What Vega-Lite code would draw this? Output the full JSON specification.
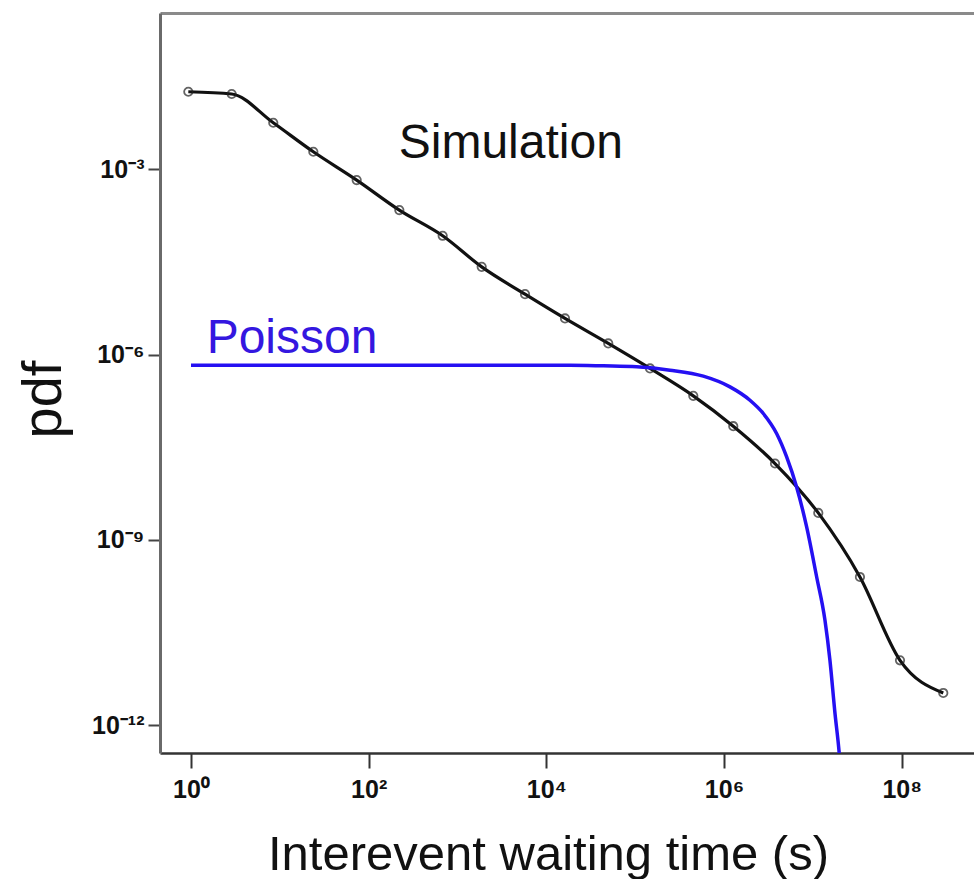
{
  "$schema": "https://vega.github.io/schema/vega-lite/v6.json",
  "width": 814,
  "height": 740,
  "autosize": {"type": "none"},
  "padding": {"left": 160, "top": 13, "right": 0, "bottom": 126},
  "background": "white",
  "config": {"view": {"stroke": null}, "axis": {"grid": false}},
  "datasets": {
    "sim": [
      {"t": 0.933, "pdf": 0.01807},
      {"t": 2.871, "pdf": 0.01660},
      {"t": 8.433, "pdf": 0.005689},
      {"t": 23.82, "pdf": 0.001928},
      {"t": 73.28, "pdf": 0.0006714},
      {"t": 221.3, "pdf": 0.0002193},
      {"t": 680.8, "pdf": 0.00008414},
      {"t": 1871, "pdf": 0.00002642},
      {"t": 5754, "pdf": 0.000009550},
      {"t": 16218, "pdf": 0.000003864},
      {"t": 49774, "pdf": 0.000001521},
      {"t": 146893, "pdf": 5.984e-7},
      {"t": 450817, "pdf": 2.153e-7},
      {"t": 1271000, "pdf": 6.950e-8},
      {"t": 3750000, "pdf": 1.730e-8},
      {"t": 11510000, "pdf": 2.742e-9},
      {"t": 33880000, "pdf": 2.518e-10},
      {"t": 95720000, "pdf": 1.127e-11},
      {"t": 293800000, "pdf": 3.334e-12}
    ],
    "poisson": [
      {"t": 1, "pdf": 6.761e-7},
      {"t": 18450, "pdf": 6.761e-7},
      {"t": 43752, "pdf": 6.592e-7},
      {"t": 103992, "pdf": 6.353e-7},
      {"t": 246604, "pdf": 5.610e-7},
      {"t": 584790, "pdf": 4.487e-7},
      {"t": 1166800, "pdf": 3.013e-7},
      {"t": 1958800, "pdf": 1.832e-7},
      {"t": 2766900, "pdf": 1.117e-7},
      {"t": 3908400, "pdf": 5.297e-8},
      {"t": 5069900, "pdf": 2.213e-8},
      {"t": 6561500, "pdf": 7.228e-9},
      {"t": 8511400, "pdf": 1.626e-9},
      {"t": 11041000, "pdf": 2.518e-10},
      {"t": 13677000, "pdf": 5.058e-11},
      {"t": 15560000, "pdf": 1.138e-11},
      {"t": 17742000, "pdf": 1.563e-12},
      {"t": 19815000, "pdf": 3.516e-13},
      {"t": 21281000, "pdf": 8.913e-14}
    ],
    "simLabel": [{"t": 3981, "pdf": 0.00151, "text": "Simulation"}],
    "poissonLabel": [{"t": 1.5, "pdf": 0.00000105, "text": "Poisson"}]
  },
  "resolve": {"axis": {"x": "independent"}},
  "layer": [
    {
      "data": {"name": "sim"},
      "mark": {"type": "line", "color": "#111111", "strokeWidth": 3.2, "interpolate": "monotone", "clip": true},
      "encoding": {
        "x": {
          "field": "t", "type": "quantitative",
          "scale": {"type": "log", "domain": [0.4477, 651600000], "nice": false},
          "axis": {
            "orient": "bottom",
            "values": [1, 100, 10000, 1000000, 100000000],
            "labelExpr": "'10' + (datum.value < 10 ? '⁰' : datum.value < 1000 ? '²' : datum.value < 100000 ? '⁴' : datum.value < 10000000 ? '⁶' : '⁸')",
            "domainColor": "#333333", "domainWidth": 2.5,
            "tickColor": "#333333", "tickWidth": 2, "tickSize": 15,
            "labelFont": "Liberation Sans", "labelFontSize": 25, "labelFontWeight": "bold", "labelColor": "#111111",
            "labelPadding": 9,
            "title": "Interevent waiting time (s)",
            "titleFont": "Liberation Sans", "titleFontSize": 49, "titleFontWeight": "normal", "titleColor": "#111111",
            "titleBaseline": "alphabetic", "titleX": 388, "titleY": 116, "titleAlign": "center"
          }
        },
        "y": {
          "field": "pdf", "type": "quantitative",
          "scale": {"type": "log", "domain": [3.556e-13, 0.3404], "nice": false},
          "axis": {
            "orient": "left",
            "values": [1e-12, 1e-9, 1e-6, 1e-3],
            "labelExpr": "'10' + (datum.value < 5e-12 ? '⁻¹²' : datum.value < 5e-9 ? '⁻⁹' : datum.value < 5e-6 ? '⁻⁶' : '⁻³')",
            "domainColor": "#6a6a6a", "domainWidth": 3,
            "tickColor": "#444444", "tickWidth": 2, "tickSize": 12,
            "labelFont": "Liberation Sans", "labelFontSize": 25, "labelFontWeight": "bold", "labelColor": "#111111",
            "labelPadding": 4,
            "title": "pdf",
            "titleFont": "Liberation Sans", "titleFontSize": 56, "titleFontWeight": "normal", "titleColor": "#111111",
            "titleAngle": 270, "titleBaseline": "alphabetic", "titleX": -100, "titleY": 386, "titleAlign": "center"
          }
        }
      }
    },
    {
      "data": {"name": "sim"},
      "mark": {"type": "point", "shape": "circle", "filled": false, "stroke": "#222222", "strokeWidth": 1.8, "size": 70},
      "encoding": {
        "x": {"field": "t", "type": "quantitative", "axis": null},
        "y": {"field": "pdf", "type": "quantitative"}
      }
    },
    {
      "data": {"name": "poisson"},
      "mark": {"type": "line", "color": "#2510f2", "strokeWidth": 3.5, "interpolate": "monotone", "clip": true},
      "encoding": {
        "x": {"field": "t", "type": "quantitative", "axis": null},
        "y": {"field": "pdf", "type": "quantitative"}
      }
    },
    {
      "data": {"name": "poissonLabel"},
      "mark": {"type": "text", "font": "Liberation Sans", "fontSize": 48, "baseline": "alphabetic", "align": "left", "color": "#3417e0"},
      "encoding": {
        "x": {"field": "t", "type": "quantitative", "axis": null},
        "y": {"field": "pdf", "type": "quantitative"},
        "text": {"field": "text"}
      }
    },
    {
      "data": {"name": "simLabel"},
      "mark": {"type": "text", "font": "Liberation Sans", "fontSize": 48, "baseline": "alphabetic", "align": "center", "color": "#111111"},
      "encoding": {
        "x": {
          "field": "t", "type": "quantitative",
          "axis": {"orient": "top", "labels": false, "ticks": false, "title": null, "domainColor": "#8a8a8a", "domainWidth": 3}
        },
        "y": {"field": "pdf", "type": "quantitative"},
        "text": {"field": "text"}
      }
    }
  ]
}
